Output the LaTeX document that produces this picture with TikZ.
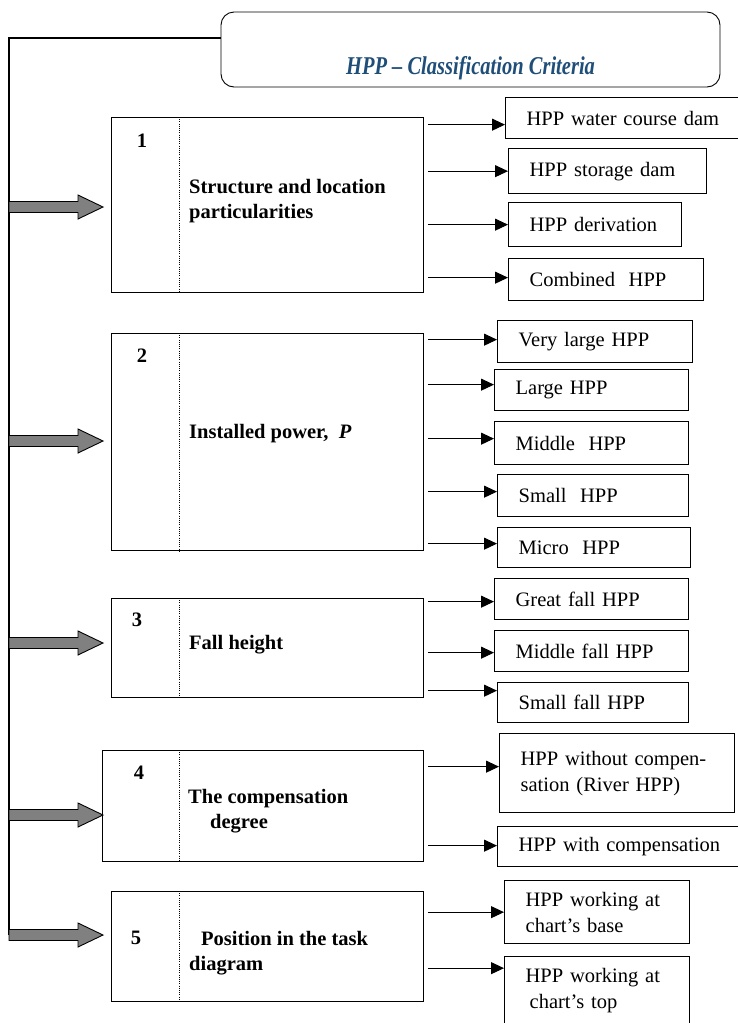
\documentclass[tikz,border=0pt]{standalone}
\usepackage{fontspec}
\setmainfont{Liberation Serif}
\usepackage{graphicx}
\usetikzlibrary{arrows.meta,calc}
\definecolor{bluTitolo}{RGB}{31,78,121}
\definecolor{grigioFreccia}{RGB}{128,128,128}

\begin{document}
\begin{tikzpicture}[x=1pt, y=-1pt,
    criterio/.style={draw, line width=0.9pt, anchor=north west, inner sep=0pt},
    voce/.style={draw, line width=1.3pt, anchor=north west, inner xsep=21pt, inner ysep=0pt, align=left, font=\fontsize{20.5}{26}\selectfont},
    etichetta/.style={anchor=west, inner sep=0pt, align=left, font=\fontsize{20.5}{25}\selectfont\bfseries},
    numero/.style={inner sep=0pt, font=\fontsize{20.5}{25}\selectfont\bfseries},
    freccia/.style={-{Triangle[length=13pt,width=12pt]}, line width=1pt},
    divisore/.style={line width=0.9pt, dash pattern=on 1pt off 1.2pt}]
        \useasboundingbox (0,0) rectangle (738,1023);
        \clip (0,0) rectangle (738,1023);

        % Titolo in alto
        \node[draw, rounded corners=13pt, line width=0.9pt, minimum width=499pt, minimum height=75pt] (titolo) at (470.5,49.5) {};
        \node[text=bluTitolo, inner sep=0pt, font=\fontsize{20.5}{25}\selectfont\bfseries\itshape] (titolotesto) at (470.5,68) {\scalebox{1}[1.25]{HPP -- Classification Criteria}};

        % Riquadri dei criteri con separatore punteggiato
        \foreach \n/\x/\y/\w/\h in {1/111/117/312/175, 2/111/333/312/217, 3/111/598/312/99, 4/102/750/321/111, 5/111/891/312/110} {
            \node[criterio, minimum width=\w pt, minimum height=\h pt] (crit\n) at (\x,\y) {};
            \draw[divisore] (179,0 |- crit\n.north) -- (179,0 |- crit\n.south);
        }

        % Numeri e nomi dei criteri
        \node[numero] (num1) at (142,141) {1};
        \node[numero] (num2) at (142,356) {2};
        \node[numero] (num3) at (137,620) {3};
        \node[numero] (num4) at (139,773) {4};
        \node[numero] (num5) at (136,938) {5};
        \node[etichetta] (lab1) at (189,201.5) {Structure and location\\particularities};
        \node[etichetta] (lab2) at (189,434) {Installed power,~ \textit{P}};
        \node[etichetta] (lab3) at (189,645) {Fall height};
        \node[etichetta] (lab4) at (188,811) {The compensation\\\hspace*{22pt}degree};
        \node[etichetta] (lab5) at (189,953) {\hspace*{12pt}Position in the task\\diagram};

        % Linea guida a sinistra
        \coordinate (basso) at (9,935);
        \draw[line width=1.2pt] ([yshift=11.5pt]titolo.west) -| (basso);

        % Frecce larghe verso i criteri
        \foreach \y in {207, 441, 643, 815, 935} {
            \filldraw[fill=grigioFreccia, line width=0.9pt] (9,\y-5.5) -- (78,\y-5.5) -- (78,\y-12) -- (103,\y) -- (78,\y+12) -- (78,\y+5.5) -- (9,\y+5.5) -- cycle;
        }

        % Voci di ogni criterio e frecce
        \foreach \c/\n/\x/\y/\tw/\h/\s/\testo in {
            1/1a/505/97/198/41/6.5/{HPP water course dam},
            1/1b/508/148/156/45/0/{HPP storage dam},
            1/1c/508/202/131/44/0/{HPP derivation},
            1/1d/508/258/153/42/-2/{Combined~ HPP},
            2/2a/497/320/153/42/-2/{Very large HPP},
            2/2b/494/369/152/41/-5.5/{Large HPP},
            2/2c/494/421/152/43/-4.5/{Middle~ HPP},
            2/2d/497/474/149/42/-4/{Small~ HPP},
            2/2e/497/527/151/40/-4/{Micro~ HPP},
            3/3a/494/578/152/41/2.5/{Great fall HPP},
            3/3b/494/630/152/41/1.5/{Middle fall HPP},
            3/3c/497/682/149/40/-12/{Small fall HPP},
            4/4a/499/733/193/79/-6.5/{HPP without compen-\\sation (River HPP)},
            4/4b/497/826/206/40/-1/{HPP with compensation},
            5/5a/504/880/143/63/0/{HPP working at\\chart’s base},
            5/5b/504/956/143/67/-22/{HPP working at\\\hspace*{4pt}chart’s top}} {
            \node[voce, text width=\tw pt, minimum height=\h pt] (voce\n) at (\x,\y) {\testo};
            \draw[freccia] ($(voce\n.west -| crit\c.east)+(4,\s)$) -- ($(voce\n.west)+(0,\s)$);
        }
    \end{tikzpicture}
\end{document}
